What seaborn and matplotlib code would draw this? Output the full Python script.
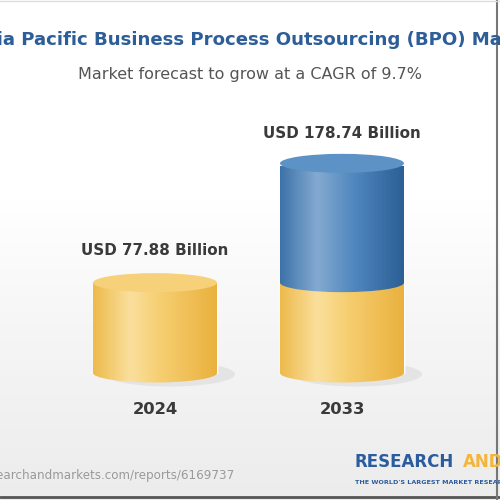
import numpy as np
import pandas as pd
import matplotlib
matplotlib.use("Agg")
import matplotlib.pyplot as plt
import seaborn as sns
from matplotlib.colors import LinearSegmentedColormap
from matplotlib.patches import Ellipse, Rectangle

# ---- data ----
years = ["2024", "2033"]
totals = [77.88, 178.74]
base = [77.88, 77.88]
value_labels = ["USD 77.88 Billion", "USD 178.74 Billion"]
title = "Asia Pacific Business Process Outsourcing (BPO) Market"
subtitle = "Market forecast to grow at a CAGR of 9.7%"

sns.set_theme(style="white")
plt.rcParams['font.family'] = ['DejaVu Sans']

fig = plt.figure(figsize=(5, 5), dpi=100)
ax = fig.add_axes([0, 0, 1, 1])

px = 1.16  # pixels per unit
base_px = 373
ax.set_xlim(-0.829, 1.845)
ax.set_ylim(-(500 - base_px) / px, base_px / px)
ax.axis("off")

ylo, yhi = ax.get_ylim()
# background gradient
bg = np.linspace(0, 1, 256).reshape(-1, 1)
bg_cmap = LinearSegmentedColormap.from_list("bg", [(0, "#ECECEC"), (0.35, "#F6F6F6"), (0.6, "#FFFFFF"), (1, "#FFFFFF")])
ax.imshow(bg, extent=(-0.829, 1.845, ylo, yhi), origin="lower", cmap=bg_cmap, aspect="auto", zorder=0)

bw = 124 / 187
df_tot = pd.DataFrame({"year": years, "value": totals})
df_base = pd.DataFrame({"year": years, "value": base})
sns.barplot(data=df_tot, x="year", y="value", color="#4A80B8", width=bw, ax=ax, zorder=2, saturation=1)
sns.barplot(data=df_base, x="year", y="value", color="#F4C55B", width=bw, ax=ax, zorder=3, saturation=1)
ax.set_xlim(-0.829, 1.845)
ax.set_ylim(ylo, yhi)
ax.axis("off")

yel_cmap = LinearSegmentedColormap.from_list("y", [(0, "#EDBA4C"), (0.3, "#FADF9C"), (0.55, "#F6CE70"), (1, "#EAB13E")])
blu_cmap = LinearSegmentedColormap.from_list("b", [(0, "#3D72A9"), (0.3, "#84AAD0"), (0.6, "#4F87BE"), (1, "#2B5F96")])
grad = np.linspace(0, 1, 256).reshape(1, -1)
eh = 2 * 9.5 / px  # ellipse full height in data units

def cyl_segment(x0, w, y0, y1, cmap, z):
    ext = (x0, x0 + w, y0 - eh / 2 - 1, y1)
    im = ax.imshow(grad, extent=ext, cmap=cmap, aspect="auto", zorder=z)
    r = Rectangle((x0, y0), w, y1 - y0, transform=ax.transData)
    im.set_clip_path(r)
    im2 = ax.imshow(grad, extent=ext, cmap=cmap, aspect="auto", zorder=z)
    e = Ellipse((x0 + w / 2, y0), w, eh, transform=ax.transData)
    im2.set_clip_path(e)

n = len(years)
tot_patches = ax.patches[:n]
base_patches = ax.patches[n:2 * n]

# shadows
for p in tot_patches:
    x0, w = p.get_x(), p.get_width()
    ax.add_patch(Ellipse((x0 + w / 2 + 0.08, -1), w * 1.05, eh * 1.3, color="#E4E4E4", zorder=1.5, lw=0))

for i in range(n):
    bp = base_patches[i]
    tp = tot_patches[i]
    x0, w = bp.get_x(), bp.get_width()
    cyl_segment(x0, w, 0, bp.get_height(), yel_cmap, 4)
    if tp.get_height() > bp.get_height() + 0.01:
        cyl_segment(x0, w, bp.get_height(), tp.get_height(), blu_cmap, 5)
        ax.add_patch(Ellipse((x0 + w / 2, tp.get_height() + 2), w, eh, color="#5C92C5", zorder=6, lw=0))
    else:
        ax.add_patch(Ellipse((x0 + w / 2, bp.get_height()), w, eh, color="#F7D07A", zorder=6, lw=0))
    ax.text(x0 + w / 2, tp.get_height() + 32 / px, value_labels[i], ha="center", va="center",
            fontsize=10.9, fontweight="bold", color="#3A3A3A", zorder=7)
    ax.text(x0 + w / 2, -(410 - base_px) / px, years[i], ha="center", va="center",
            fontsize=11.8, fontweight="bold", color="#3A3A3A", zorder=7)

# title & subtitle in figure coordinates
fig.text(0.5 + 8 / 500, 1 - 40 / 500, title, ha="center", va="center", fontsize=13.1, fontweight="bold", color="#2E5E98")
fig.text(0.5, 1 - 75 / 500, subtitle, ha="center", va="center", fontsize=11.5, color="#555555")

# footer
fig.text(235 / 500, 1 - 475 / 500, "www.researchandmarkets.com/reports/6169737", ha="right", va="center",
         fontsize=8.6, color="#9A9A9A")
fig.text(355 / 500, 1 - 462 / 500, "RESEARCH", ha="left", va="center", fontsize=12, fontweight="bold", color="#2B5C9E")
fig.text(463 / 500, 1 - 462 / 500, "AND", ha="left", va="center", fontsize=12, fontweight="bold", color="#F3B53A")
fig.text(355 / 500, 1 - 483 / 500, "THE WORLD'S LARGEST MARKET RESEARCH STORE", ha="left", va="center",
         fontsize=4.6, fontweight="bold", color="#2B5C9E")

# frame lines
fig.add_artist(plt.Line2D([0, 1], [3 / 500, 3 / 500], color="#555555", lw=2))
fig.add_artist(plt.Line2D([497 / 500, 497 / 500], [0, 1], color="#777777", lw=1.5))
fig.add_artist(plt.Line2D([0, 1], [499 / 500, 499 / 500], color="#DDDDDD", lw=1))

fig.savefig("out.png", dpi=100)
